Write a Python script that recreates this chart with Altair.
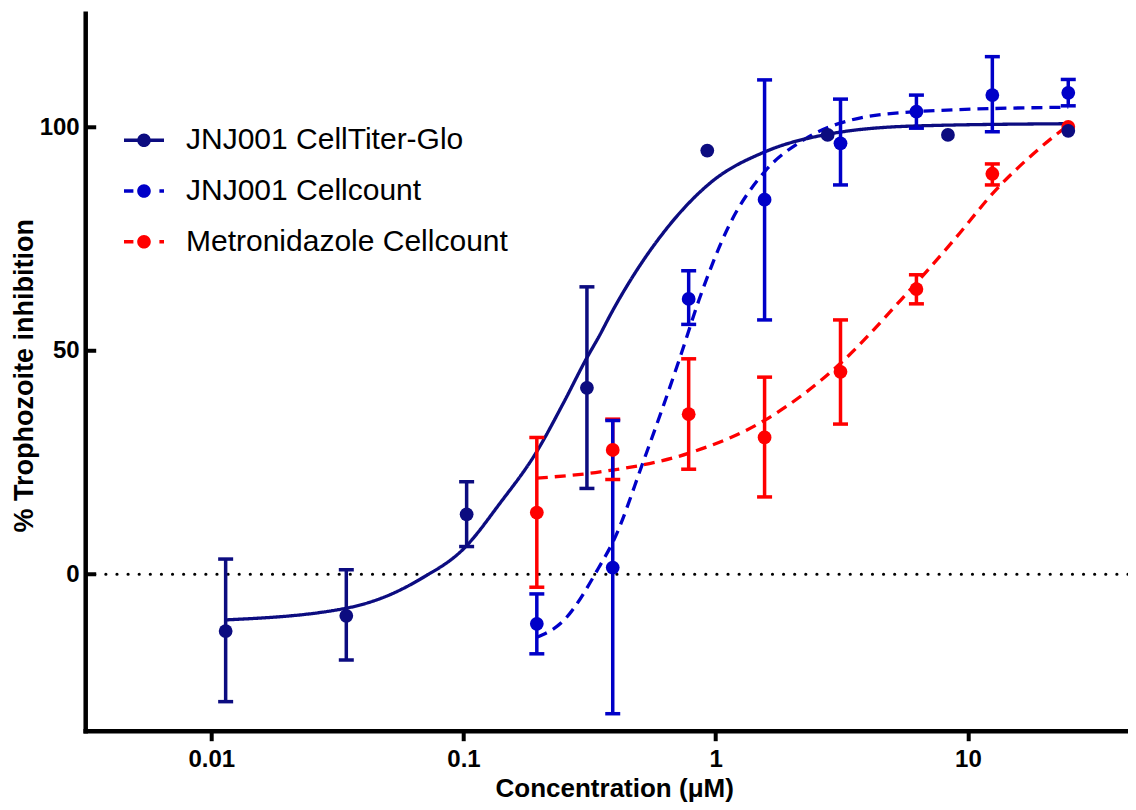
import altair as alt
import pandas as pd

# ---------------- data ----------------
SERIES = ["JNJ001 CellTiter-Glo", "JNJ001 Cellcount", "Metronidazole Cellcount"]
COLORS = ["#0c0c80", "#0000c8", "#ff0000"]

# JNJ001 CellTiter-Glo (3-fold dilutions)
ctg_conc = [0.0114, 0.0343, 0.1029, 0.3086, 0.9259, 2.778, 8.333, 25.0]
ctg_mean = [-12.7, -9.3, 13.4, 41.7, 94.8, 98.3, 98.3, 99.2]
ctg_lo = [-28.5, -19.2, 6.2, 19.2, None, None, None, None]
ctg_hi = [3.4, 1.0, 20.7, 64.3, None, None, None, None]

# Cellcount assays (2-fold dilutions)
cc_conc = [0.1953, 0.3906, 0.7813, 1.5625, 3.125, 6.25, 12.5, 25.0]
jcc_mean = [-11.1, 1.5, 61.6, 83.8, 96.4, 103.5, 107.2, 107.7]
jcc_lo = [-17.8, -31.2, 55.9, 56.9, 87.1, 99.8, 99.0, 104.8]
jcc_hi = [-4.4, 34.4, 67.9, 110.6, 106.3, 107.2, 115.8, 110.7]

met_mean = [13.8, 27.8, 35.8, 30.6, 45.3, 63.8, 89.6, 100.1]
met_lo = [-2.9, 21.2, 23.5, 17.3, 33.6, 60.5, 87.1, None]
met_hi = [30.6, 34.7, 48.2, 44.1, 56.9, 67.0, 91.8, None]

# fitted curves, points
ctg_fit_conc = [0.0115, 0.0342, 0.05, 0.0678, 0.1005, 0.14, 0.1935, 0.25, 0.3048,
                0.3476, 0.3845, 0.48, 0.618, 0.949, 1.582, 2.64, 6.22, 25.0]
ctg_fit = [-10.2, -7.6, -4.8, -1.0, 5.8, 16.0, 27.1, 38.5, 47.9,
           53.6, 58.3, 67.5, 76.3, 87.5, 94.6, 98.2, 100.3, 100.8]

jcc_fit_conc = [0.1953, 0.247, 0.348, 0.395, 0.514, 0.724, 0.859, 1.125,
                1.582, 2.233, 3.43, 6.22, 25.0]
jcc_fit = [-14.1, -10.6, 2.0, 7.7, 24.9, 48.7, 61.4, 77.8,
           90.4, 97.2, 101.6, 103.5, 104.5]

met_fit_conc = [0.1953, 0.348, 0.784, 1.569, 3.14, 5.43, 8.81, 12.92, 18.28, 25.0]
met_fit = [21.5, 22.9, 27.1, 34.5, 47.3, 61.4, 74.8, 86.0, 94.2, 100.5]

zero_line = [0]
y_tick_values = [0, 50, 100]
x_tick_values = [0.01, 0.1, 1, 10]

# ---------------- tables ----------------
def block(name, conc, mean, lo, hi):
    return pd.DataFrame({"series": name, "conc": conc, "mean": mean, "lo": lo, "hi": hi})

pts = pd.concat([
    block(SERIES[2], cc_conc, met_mean, met_lo, met_hi),
    block(SERIES[1], cc_conc, jcc_mean, jcc_lo, jcc_hi),
    block(SERIES[0], ctg_conc, ctg_mean, ctg_lo, ctg_hi),
], ignore_index=True)

fit = pd.concat([
    pd.DataFrame({"series": SERIES[2], "conc": met_fit_conc, "fit": met_fit}),
    pd.DataFrame({"series": SERIES[1], "conc": jcc_fit_conc, "fit": jcc_fit}),
    pd.DataFrame({"series": SERIES[0], "conc": ctg_fit_conc, "fit": ctg_fit}),
], ignore_index=True)

zero_df = pd.DataFrame({"v": zero_line})
ytick_df = pd.DataFrame({"v": y_tick_values})

# ---------------- scales / axes ----------------
FONT = "Liberation Sans"
PAD_L, PAD_T, PAD_B = 77.2, 5.3, 71.3
PLOT_W = 1120 - PAD_L
PLOT_H = 717.4

xs = alt.Scale(type="log", domain=[10 ** -2.5, 10 ** (-2.5 + PLOT_W / 252.2)], nice=False)
ys = alt.Scale(domain=[-35, 125.5], nice=False, zero=False)
cs = alt.Scale(domain=SERIES, range=COLORS)

PATH_SOLID = ("M-1,-0.09H1V0.09H-1Z "
              "M0.34,0A0.34,0.34,0,1,1,-0.34,0A0.34,0.34,0,1,1,0.34,0Z")
PATH_DASH = ("M-1,-0.09H-0.53V0.09H-1Z M0.77,-0.09H1V0.09H0.77Z "
             "M0.34,0A0.34,0.34,0,1,1,-0.34,0A0.34,0.34,0,1,1,0.34,0Z")
ss = alt.Scale(domain=SERIES, range=[PATH_SOLID, PATH_DASH, PATH_DASH])

x_axis = alt.Axis(
    values=x_tick_values, format="~g", grid=False,
    tickSize=10, tickWidth=4, tickColor="black",
    domainColor="black", domainWidth=4.5, domainCap="square",
    labelFont=FONT, labelFontWeight="bold", labelFontSize=24, labelColor="black",
    labelPadding=7, labelFlush=False, labelOverlap=False,
    titleFont=FONT, titleFontWeight="bold", titleFontSize=26, titleColor="black",
    titleBaseline="alphabetic", titleX=529, titleY=65.6,
)
y_axis = alt.Axis(
    values=y_tick_values, grid=False, ticks=False, tickSize=0,
    domainColor="black", domainWidth=4.5, domainCap="square",
    labelFont=FONT, labelFontWeight="bold", labelFontSize=24, labelColor="black",
    labelPadding=6,
    titleFont=FONT, titleFontWeight="bold", titleFontSize=27, titleColor="black",
    titleBaseline="alphabetic", titleX=-53, titleY=362,
)

X_TITLE = "Concentration (μM)"
Y_TITLE = "% Trophozoite inhibition"

def X(field="conc"):
    return alt.X(f"{field}:Q", scale=xs, axis=x_axis, title=X_TITLE)

def Y(field):
    return alt.Y(f"{field}:Q", scale=ys, axis=y_axis, title=Y_TITLE)

def C(legend=None):
    if legend is None:
        return alt.Color("series:N", scale=cs, legend=None)
    return alt.Color("series:N", scale=cs, legend=legend, title=None)

leg = alt.Legend(
    orient="none", legendX=38.8, legendY=107, direction="vertical",
    labelFont=FONT, labelFontSize=30, labelColor="black", labelOffset=22,
    labelLimit=0, symbolSize=1600, symbolStrokeWidth=0, symbolOpacity=1,
    rowPadding=15.7, padding=0,
)

# ---------------- layers ----------------
legend_layer = alt.Chart(pts).mark_point(filled=True, opacity=0, size=10).encode(
    x=X(), y=Y("mean"), color=C(leg),
    shape=alt.Shape("series:N", scale=ss, legend=leg, title=None),
)

zero_rule = alt.Chart(zero_df).mark_rule(
    color="black", strokeWidth=3.2, strokeDash=[0.01, 11.1], strokeCap="round"
).encode(y=Y("v"))

y_ticks = alt.Chart(ytick_df).mark_rule(color="black", strokeWidth=4).encode(
    y=Y("v"), x=alt.value(0), x2=alt.value(11)
)

curves = alt.Chart(fit).mark_line(strokeWidth=3.3, interpolate="monotone").encode(
    x=X(), y=Y("fit"), color=C(),
    strokeDash=alt.StrokeDash(
        "series:N",
        scale=alt.Scale(domain=SERIES, range=[[1, 0], [11, 7], [11, 7]]),
        legend=None,
    ),
    detail="series:N",
)

err = alt.Chart(pts).transform_filter("isValid(datum.lo)").mark_rule(strokeWidth=3.5).encode(
    x=X(), y=Y("lo"), y2="hi:Q", color=C(),
)

caps = alt.Chart(pts).transform_fold(["lo", "hi"], as_=["which", "capv"]).transform_filter(
    "isValid(datum.capv)"
).mark_tick(orient="horizontal", size=15, thickness=3.5, opacity=1).encode(
    x=X(), y=Y("capv"), color=C(),
)

points = alt.Chart(pts).mark_circle(size=190, opacity=1).encode(
    x=X(), y=Y("mean"), color=C(),
)

chart = alt.layer(
    legend_layer, zero_rule, y_ticks, curves, err, caps, points
).properties(
    width=PLOT_W, height=PLOT_H,
    autosize=alt.AutoSizeParams(type="none"),
    padding={"left": PAD_L, "top": PAD_T, "right": 0, "bottom": PAD_B},
    background="white",
).configure(font=FONT).configure_view(stroke=None)

chart.save("out.html", embed_options={"renderer": "svg", "actions": False})
